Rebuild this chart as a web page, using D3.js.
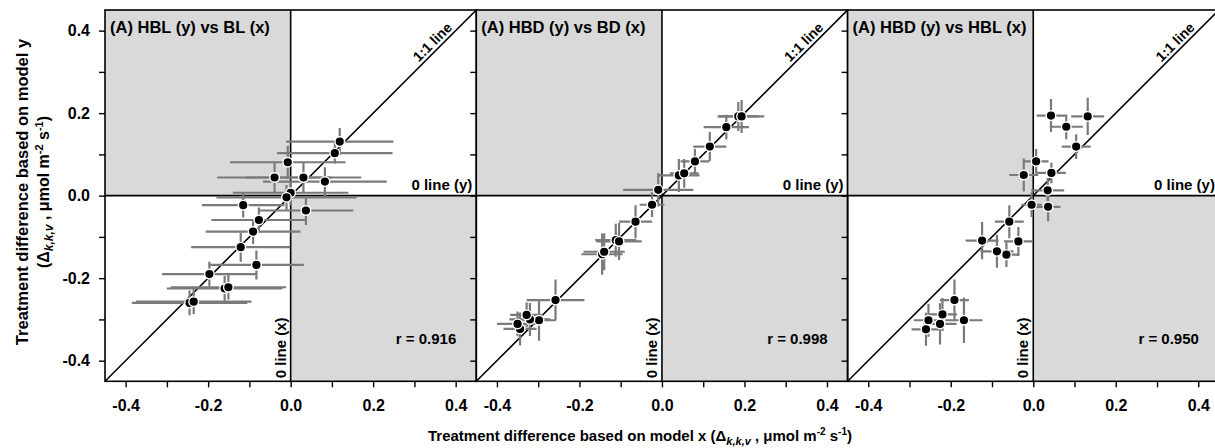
<!DOCTYPE html>
<html><head><meta charset="utf-8">
<script src="https://cdn.jsdelivr.net/npm/d3@7"></script>
<style>
body{margin:0;background:#fff;}
svg{display:block;font-family:"Liberation Sans",Arial,sans-serif;font-weight:bold;}
</style></head>
<body><svg id="c" width="1215" height="448"></svg>
<script>
// ---- data ----
const panelTitles = ["(A) HBL (y) vs BL (x)", "(A) HBD (y) vs BD (x)", "(A) HBD (y) vs HBL (x)"];
const rLabels = ["r = 0.916", "r = 0.998", "r = 0.950"];
const tickValues = [-0.4, -0.3, -0.2, -0.1, 0, 0.1, 0.2, 0.3, 0.4];
const tickLabels = ["-0.4", "", "-0.2", "", "0.0", "", "0.2", "", "0.4"];

const p1X    = [0.119, 0.107, -0.007, -0.039, 0.031, 0.083, 0.000, -0.010, -0.115, 0.037, -0.077, -0.091, -0.121, -0.083, -0.197, -0.160, -0.151, -0.245, -0.235];
const p1Y    = [0.131, 0.103, 0.081, 0.044, 0.044, 0.034, 0.007, -0.004, -0.023, -0.036, -0.059, -0.087, -0.125, -0.168, -0.190, -0.225, -0.222, -0.260, -0.257];
const p1Xerr = [0.130, 0.140, 0.140, 0.139, 0.140, 0.150, 0.140, 0.170, 0.100, 0.115, 0.115, 0.115, 0.120, 0.115, 0.115, 0.140, 0.140, 0.140, 0.140];
const p1Yerr = [0.033, 0.025, 0.040, 0.035, 0.035, 0.035, 0.030, 0.030, 0.030, 0.035, 0.030, 0.030, 0.035, 0.035, 0.030, 0.030, 0.030, 0.030, 0.030];

const p2X    = [0.185, 0.193, 0.156, 0.116, 0.080, 0.041, 0.054, -0.009, -0.024, -0.064, -0.112, -0.104, -0.145, -0.140, -0.258, -0.298, -0.320, -0.328, -0.344, -0.350];
const p2Y    = [0.192, 0.192, 0.166, 0.119, 0.083, 0.049, 0.054, 0.014, -0.022, -0.063, -0.108, -0.111, -0.142, -0.136, -0.253, -0.302, -0.300, -0.289, -0.323, -0.311];
const p2Xerr = [0.050, 0.055, 0.055, 0.040, 0.035, 0.050, 0.035, 0.085, 0.030, 0.040, 0.050, 0.055, 0.050, 0.050, 0.070, 0.040, 0.050, 0.040, 0.040, 0.050];
const p2Yerr = [0.035, 0.040, 0.030, 0.035, 0.030, 0.040, 0.035, 0.040, 0.030, 0.040, 0.040, 0.045, 0.050, 0.045, 0.050, 0.050, 0.040, 0.030, 0.040, 0.030];

const p3X    = [0.043, 0.132, 0.080, 0.104, 0.007, -0.023, 0.044, 0.035, -0.004, 0.036, -0.058, -0.124, -0.036, -0.088, -0.065, -0.191, -0.220, -0.254, -0.168, -0.226, -0.260];
const p3Y    = [0.194, 0.192, 0.167, 0.119, 0.083, 0.050, 0.055, 0.013, -0.022, -0.027, -0.063, -0.109, -0.111, -0.135, -0.143, -0.253, -0.288, -0.302, -0.302, -0.311, -0.324];
const p3Xerr = [0.035, 0.040, 0.040, 0.035, 0.030, 0.035, 0.035, 0.040, 0.025, 0.030, 0.035, 0.040, 0.035, 0.040, 0.030, 0.035, 0.035, 0.035, 0.045, 0.040, 0.035];
const p3Yerr = [0.040, 0.045, 0.030, 0.030, 0.030, 0.040, 0.025, 0.030, 0.030, 0.035, 0.040, 0.045, 0.035, 0.040, 0.030, 0.050, 0.040, 0.040, 0.055, 0.050, 0.040];

const panelsX = [p1X, p2X, p3X], panelsY = [p1Y, p2Y, p3Y];
const panelsXerr = [p1Xerr, p2Xerr, p3Xerr], panelsYerr = [p1Yerr, p2Yerr, p3Yerr];
const domain = [-0.45, 0.45];

// ---- layout ----
const svg = d3.select("#c");
const left0 = 105, top0 = 10, size = 371.3;
const shade = "#d9d9d9", barColor = "#7a7a7a";
const ff = "'Liberation Sans',Arial,sans-serif";

for (let p = 0; p < 3; p++) {
  const ox = left0 + p * size;
  const x = d3.scaleLinear().domain(domain).range([0, size]);
  const y = d3.scaleLinear().domain(domain).range([size, 0]);
  const g = svg.append("g").attr("transform", `translate(${ox},${top0})`);
  const cid = "clip" + p;
  g.append("clipPath").attr("id", cid).append("rect").attr("width", size).attr("height", size);
  const gc = g.append("g").attr("clip-path", `url(#${cid})`);

  // shaded quadrants
  gc.append("rect").attr("x", x(domain[0])).attr("y", y(domain[1]))
    .attr("width", x(0) - x(domain[0])).attr("height", y(0) - y(domain[1])).attr("fill", shade);
  gc.append("rect").attr("x", x(0)).attr("y", y(0))
    .attr("width", x(domain[1]) - x(0)).attr("height", y(domain[0]) - y(0)).attr("fill", shade);

  // zero lines and 1:1 line
  gc.append("line").attr("x1", x(0)).attr("x2", x(0)).attr("y1", 0).attr("y2", size)
    .attr("stroke", "#000").attr("stroke-width", 1.6);
  gc.append("line").attr("x1", 0).attr("x2", size).attr("y1", y(0)).attr("y2", y(0))
    .attr("stroke", "#000").attr("stroke-width", 1.6);
  gc.append("line").attr("x1", x(domain[0])).attr("y1", y(domain[0]))
    .attr("x2", x(domain[1])).attr("y2", y(domain[1]))
    .attr("stroke", "#000").attr("stroke-width", 1.6);

  const X = panelsX[p], Y = panelsY[p], XE = panelsXerr[p], YE = panelsYerr[p];
  const idx = d3.range(X.length);
  // error bars
  gc.selectAll(".hb").data(idx).join("line")
    .attr("x1", i => x(X[i] - XE[i])).attr("x2", i => x(X[i] + XE[i]))
    .attr("y1", i => y(Y[i])).attr("y2", i => y(Y[i]))
    .attr("stroke", barColor).attr("stroke-width", 2.2);
  gc.selectAll(".vb").data(idx).join("line")
    .attr("x1", i => x(X[i])).attr("x2", i => x(X[i]))
    .attr("y1", i => y(Y[i] - YE[i])).attr("y2", i => y(Y[i] + YE[i]))
    .attr("stroke", barColor).attr("stroke-width", 2.2);
  // points
  gc.selectAll(".pt").data(idx).join("circle")
    .attr("cx", i => x(X[i])).attr("cy", i => y(Y[i])).attr("r", 4.8)
    .attr("fill", "#000").attr("stroke", "#fff").attr("stroke-width", 1.4);

  // frame
  g.append("rect").attr("width", size).attr("height", size)
    .attr("fill", "none").attr("stroke", "#000").attr("stroke-width", 1.6);

  // axes
  const xa = g.append("g").attr("transform", `translate(0,${size})`)
    .call(d3.axisBottom(x).tickValues(tickValues).tickSize(6).tickPadding(12)
      .tickFormat((d, i) => tickLabels[i]));
  const ya = g.append("g")
    .call(d3.axisLeft(y).tickValues(tickValues).tickSize(6).tickPadding(9)
      .tickFormat((d, i) => p === 0 ? tickLabels[i] : ""));
  [xa, ya].forEach(a => {
    a.select(".domain").remove();
    a.selectAll(".tick line").attr("stroke", "#000").attr("stroke-width", 1.4);
    a.selectAll(".tick text").attr("fill", "#000").style("font-size", "16px")
      .style("font-weight", "bold").style("font-family", ff);
  });

  // annotations
  g.append("text").attr("x", 5).attr("y", 23).style("font-size", "16.5px").text(panelTitles[p]);
  g.append("text").attr("x", size - 4).attr("y", y(0) - 6).attr("text-anchor", "end")
    .style("font-size", "15px").text("0 line (y)");
  g.append("text").attr("transform", `translate(${x(0) - 5},${size - 3}) rotate(-90)`)
    .style("font-size", "15px").text("0 line (x)");
  g.append("text").attr("x", size - 20).attr("y", y(-0.36)).attr("text-anchor", "end")
    .style("font-size", "15px").text(rLabels[p]);
  const d = 0.352;
  g.append("text").attr("transform", `translate(${x(d)},${y(d) - 5}) rotate(-45)`)
    .attr("text-anchor", "middle").style("font-size", "14px").text("1:1 line");
}

// axis titles
const xt = svg.append("text").attr("x", 640).attr("y", 441).attr("text-anchor", "middle").style("font-size", "15px");
xt.append("tspan").text("Treatment difference based on model x (\u0394");
xt.append("tspan").attr("font-style", "italic").attr("font-size", "11px").attr("dy", 4).text("k,k,v");
xt.append("tspan").attr("dy", -4).text(" , \u03bcmol m");
xt.append("tspan").attr("font-size", "10px").attr("dy", -6).text("-2");
xt.append("tspan").attr("dy", 6).text(" s");
xt.append("tspan").attr("font-size", "10px").attr("dy", -6).text("-1");
xt.append("tspan").attr("dy", 6).text(")");

const yt = svg.append("g").attr("transform", "translate(28,192) rotate(-90)");
yt.append("text").attr("text-anchor", "middle").style("font-size", "16.5px").text("Treatment difference based on model y");
const yt2 = yt.append("text").attr("y", 21).attr("text-anchor", "middle").style("font-size", "16px");
yt2.append("tspan").text("(\u0394");
yt2.append("tspan").attr("font-style", "italic").attr("font-size", "12px").attr("dy", 4).text("k,k,v");
yt2.append("tspan").attr("dy", -4).text(" , \u03bcmol m");
yt2.append("tspan").attr("font-size", "11px").attr("dy", -6).text("-2");
yt2.append("tspan").attr("dy", 6).text(" s");
yt2.append("tspan").attr("font-size", "11px").attr("dy", -6).text("-1");
yt2.append("tspan").attr("dy", 6).text(")");
</script></body></html>
